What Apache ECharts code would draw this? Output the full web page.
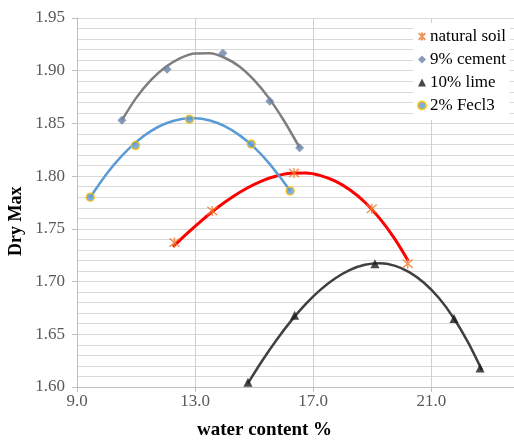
<!DOCTYPE html>
<html><head><meta charset="utf-8">
<script src="https://cdn.jsdelivr.net/npm/echarts@6/dist/echarts.min.js"></script>
<style>html,body{margin:0;padding:0;background:#fff}#c{width:514px;height:441px}</style>
</head><body><div id="c"></div>
<script>
// ---- data ----
const seriesNames = ['natural soil', '9% cement', '10% lime', '2% Fecl3'];
const xTickLabels = ['9.0', '13.0', '17.0', '21.0'];
const xLabelValues = [9, 13, 17, 21];
const yTickLabels = ['1.60', '1.65', '1.70', '1.75', '1.80', '1.85', '1.90', '1.95'];

// measured points
const naturalSoil = [[12.30, 1.737], [13.58, 1.767], [16.35, 1.803], [18.98, 1.769], [20.20, 1.717]];
const cement9 = [[10.52, 1.853], [12.05, 1.9015], [13.94, 1.9166], [15.53, 1.871], [16.54, 1.827]];
const lime10 = [[14.79, 1.6045], [16.37, 1.668], [19.09, 1.717], [21.77, 1.665], [22.65, 1.618]];
const fecl3 = [[9.45, 1.780], [10.98, 1.829], [12.81, 1.854], [14.90, 1.8305], [16.22, 1.786]];

// trend curves
const naturalSoilTrend = [[12.25, 1.733], [12.75, 1.7462], [13.25, 1.7586], [13.75, 1.7700], [14.25, 1.7800], [14.75, 1.7885], [15.25, 1.7953], [15.75, 1.8001], [16.25, 1.8027], [16.75, 1.8029], [17.25, 1.8005], [17.75, 1.7952], [18.25, 1.7868], [18.75, 1.7752], [19.25, 1.7599], [19.75, 1.7410], [20.22, 1.7195]];
const cement9Trend = [[10.52, 1.853], [11.0, 1.874], [11.5, 1.891], [12.0, 1.9035], [12.5, 1.912], [13.0, 1.9164], [13.5, 1.9165], [14.0, 1.9123], [14.5, 1.904], [15.0, 1.891], [15.5, 1.874], [16.0, 1.853], [16.54, 1.827]];
const lime10Trend = [[14.79, 1.6035], [15.25, 1.6239], [15.75, 1.6443], [16.25, 1.6627], [16.75, 1.6788], [17.25, 1.6924], [17.75, 1.7032], [18.25, 1.7111], [18.75, 1.7159], [19.25, 1.7173], [19.75, 1.7151], [20.25, 1.7090], [20.75, 1.6989], [21.25, 1.6846], [21.75, 1.6657], [22.25, 1.6421], [22.71, 1.6161]];
const fecl3Trend = [[9.45, 1.780], [10.0, 1.802], [10.5, 1.8187], [11.0, 1.8323], [11.5, 1.8427], [12.0, 1.8499], [12.5, 1.854], [13.0, 1.8549], [13.5, 1.8527], [14.0, 1.8474], [14.5, 1.8389], [15.0, 1.8272], [15.5, 1.8124], [16.0, 1.7945], [16.22, 1.786]];

const xAxisTitle = 'water content %';
const yAxisTitle = 'Dry Max';

// ---- chart ----
const FONT = '"Liberation Serif", "Times New Roman", serif';
const asterisk = 'path://M0,0L10,10M10,0L0,10M5,-1L5,11';
const chart = echarts.init(document.getElementById('c'), null, {renderer: 'canvas'});

function trend(name, data, color, width, z) {
  return {name: name, type: 'line', data: data, symbol: 'none', smooth: 0.3,
    lineStyle: {color: color, width: width}, z: z, silent: true, legendHoverLink: false};
}

chart.setOption({
  animation: false,
  backgroundColor: '#ffffff',
  textStyle: {fontFamily: FONT},
  grid: {left: 77, top: 18, right: 0, height: 369, containLabel: false},
  xAxis: {
    type: 'value', min: 9, max: 23.8, interval: 2,
    axisLine: {show: true, lineStyle: {color: '#bfbfbf', width: 1}},
    axisTick: {show: true, length: 5, inside: false, customValues: xLabelValues, lineStyle: {color: '#bfbfbf'}},
    splitLine: {show: true, lineStyle: {color: '#d0d0d0', width: 1}},
    axisLabel: {color: '#595959', fontFamily: FONT, fontSize: 17, margin: 6, showMaxLabel: false,
      formatter: function (v) { const i = xLabelValues.indexOf(Math.round(v * 10) / 10); return i >= 0 ? xTickLabels[i] : ''; }}
  },
  yAxis: {
    type: 'value', min: 1.6, max: 1.95, interval: 0.05,
    axisLine: {show: true, lineStyle: {color: '#bfbfbf', width: 1}},
    axisTick: {show: true, length: 5, inside: false, lineStyle: {color: '#bfbfbf'}},
    minorTick: {show: false, splitNumber: 5},
    splitLine: {show: true, lineStyle: {color: '#d9d9d9', width: 1}},
    minorSplitLine: {show: true, lineStyle: {color: '#d9d9d9', width: 1}},
    axisLabel: {color: '#595959', fontFamily: FONT, fontSize: 17, margin: 12,
      formatter: function (v) { const i = yTickLabels.indexOf(v.toFixed(2)); return i >= 0 ? yTickLabels[i] : ''; }}
  },
  legend: {
    data: seriesNames, orient: 'vertical', left: 413, top: 23,
    backgroundColor: '#ffffff', padding: [5, 4, 6, 4], itemGap: 6,
    itemWidth: 8, itemHeight: 8,
    textStyle: {color: '#000000', fontFamily: FONT, fontSize: 17, lineHeight: 17, padding: [0, 0, 0, -1]},
    selectedMode: false
  },
  graphic: [
    {type: 'text', left: 197, top: 421, style: {text: xAxisTitle, font: 'bold 19px "Liberation Serif"', fill: '#000000'}},
    {type: 'text', x: 7, y: 256, rotation: Math.PI / 2, style: {text: yAxisTitle, font: 'bold 18px "Liberation Serif"', fill: '#000000'}}
  ],
  series: [
    trend('t-natural', naturalSoilTrend, '#ff0000', 3, 2),
    trend('t-cement', cement9Trend, '#7f7f7f', 2.5, 2),
    trend('t-lime', lime10Trend, '#404040', 2.5, 2),
    trend('t-fecl3', fecl3Trend, '#5b9bd5', 2.5, 3),
    {name: seriesNames[0], type: 'scatter', data: naturalSoil, symbol: asterisk, symbolSize: 10,
      itemStyle: {color: 'rgba(0,0,0,0)', borderColor: '#ed7d31', borderWidth: 1.5}, z: 5},
    {name: seriesNames[1], type: 'scatter', data: cement9, symbol: 'diamond', symbolSize: 9,
      itemStyle: {color: '#6a83a8'}, z: 5},
    {name: seriesNames[2], type: 'scatter', data: lime10, symbol: 'triangle', symbolSize: 9,
      itemStyle: {color: '#1a1a1a'}, z: 5},
    {name: seriesNames[3], type: 'scatter', data: fecl3, symbol: 'circle', symbolSize: 8,
      itemStyle: {color: '#5b9bd5', borderColor: '#ffc000', borderWidth: 1.5}, z: 5}
  ]
});
</script>
</body></html>
